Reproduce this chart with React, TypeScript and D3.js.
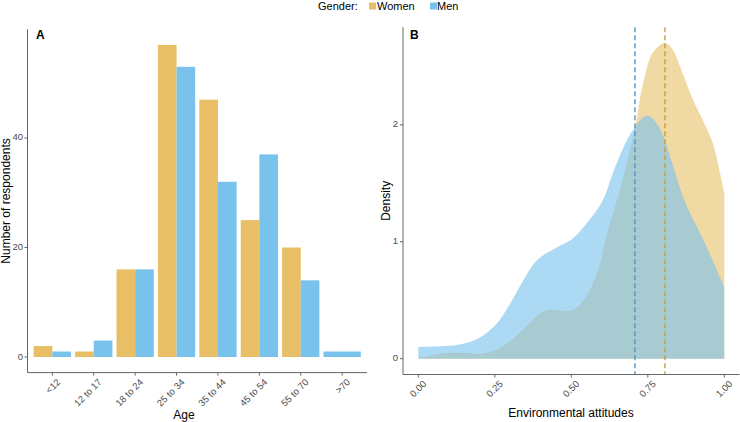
import React from "react";
import * as d3 from "d3";

const ageGroups = ["<12", "12 to 17", "18 to 24", "25 to 34", "35 to 44", "45 to 54", "55 to 70", ">70"];
const womenCounts: (number | null)[] = [2, 1, 16, 57, 47, 25, 20, null];
const menCounts: (number | null)[] = [1, 3, 16, 53, 32, 37, 14, 1];
const countTicks = [0, 20, 40];

const womenDensity: [number, number][] = [
  [0, 0.005], [0.05, 0.03], [0.1, 0.05], [0.15, 0.05], [0.2, 0.04], [0.25, 0.07], [0.3, 0.15],
  [0.35, 0.27], [0.4, 0.39], [0.43, 0.42], [0.47, 0.41], [0.5, 0.41], [0.54, 0.5], [0.584, 0.73],
  [0.617, 1.07], [0.654, 1.4], [0.68, 1.65], [0.708, 1.97], [0.735, 2.36], [0.767, 2.62],
  [0.806, 2.7], [0.83, 2.65], [0.855, 2.5], [0.898, 2.21], [0.93, 2.04], [0.963, 1.84],
  [0.985, 1.6], [1.0, 1.42],
];
const menDensity: [number, number][] = [
  [0, 0.1], [0.05, 0.105], [0.1, 0.11], [0.15, 0.13], [0.2, 0.18], [0.256, 0.3], [0.3, 0.47],
  [0.33, 0.61], [0.387, 0.84], [0.452, 0.95], [0.506, 1.03], [0.56, 1.19], [0.583, 1.27],
  [0.604, 1.36], [0.648, 1.67], [0.7, 1.95], [0.747, 2.08], [0.787, 1.98], [0.83, 1.67],
  [0.87, 1.35], [0.94, 0.97], [1.0, 0.61],
];
const meanWomen = 0.806;
const meanMen = 0.708;
const attTicks = [0, 0.25, 0.5, 0.75, 1.0];
const densTicks = [0, 1, 2];

const WOMEN = "#E8BF66";
const MEN = "#79C2EC";
const AXIS = "#666666";
const TICKTXT = "#4D4D4D";
const FONT = "'Liberation Sans', Arial, Helvetica, sans-serif";

export default function App() {
  const xA = d3.scaleLinear().domain([0.4, 8.6]).range([27.5, 367]);
  const yA = d3.scaleLinear().domain([-2.85, 59.85]).range([372.6, 29.3]);
  const xB = d3.scaleLinear().domain([-0.05, 1.05]).range([403, 739.6]);
  const yB = d3.scaleLinear().domain([-0.135, 2.835]).range([374.5, 27.2]);

  const area = d3
    .area<[number, number]>()
    .x((d) => xB(d[0]))
    .y0(() => yB(0))
    .y1((d) => yB(d[1]))
    .curve(d3.curveCatmullRom.alpha(0.5));

  const bars: React.ReactNode[] = [];
  ageGroups.forEach((g, i) => {
    const c = i + 1;
    const w = womenCounts[i];
    const m = menCounts[i];
    if (w != null && m != null) {
      bars.push(
        <rect key={"w" + i} x={xA(c - 0.45)} width={xA(c) - xA(c - 0.45)} y={yA(w)} height={yA(0) - yA(w)} fill={WOMEN} />
      );
      bars.push(
        <rect key={"m" + i} x={xA(c)} width={xA(c + 0.45) - xA(c)} y={yA(m)} height={yA(0) - yA(m)} fill={MEN} />
      );
    } else if (m != null) {
      bars.push(
        <rect key={"m" + i} x={xA(c - 0.45)} width={xA(c + 0.45) - xA(c - 0.45)} y={yA(m)} height={yA(0) - yA(m)} fill={MEN} />
      );
    } else if (w != null) {
      bars.push(
        <rect key={"w" + i} x={xA(c - 0.45)} width={xA(c + 0.45) - xA(c - 0.45)} y={yA(w)} height={yA(0) - yA(w)} fill={WOMEN} />
      );
    }
  });

  const axA_y = 372.6;
  const axB_y = 374.5;

  return (
    <svg width={740} height={422} style={{ position: "absolute", left: 0, top: 0, background: "#fff" }} fontFamily={FONT}>
      {/* Legend */}
      <g>
        <text x={318} y={10} fontSize={11} fill="#000">Gender:</text>
        <rect x={369} y={2.5} width={7} height={7} fill={WOMEN} />
        <text x={377} y={10} fontSize={11} fill="#000">Women</text>
        <rect x={430} y={2.5} width={7} height={7} fill={MEN} />
        <text x={437} y={10} fontSize={11} fill="#000">Men</text>
      </g>

      {/* Panel A */}
      <g>
        {bars}
        <line x1={27.5} x2={27.5} y1={29.3} y2={axA_y} stroke={AXIS} strokeWidth={1} />
        <line x1={27.5} x2={367} y1={axA_y} y2={axA_y} stroke={AXIS} strokeWidth={1} />
        {countTicks.map((t) => (
          <g key={t}>
            <line x1={24.5} x2={27.5} y1={yA(t)} y2={yA(t)} stroke={AXIS} />
            <text x={23} y={yA(t)} fontSize={9.5} fill={TICKTXT} textAnchor="end" dominantBaseline="middle">{t}</text>
          </g>
        ))}
        {ageGroups.map((g, i) => (
          <g key={g}>
            <line x1={xA(i + 1)} x2={xA(i + 1)} y1={axA_y} y2={axA_y + 3} stroke={AXIS} />
            <text
              transform={`translate(${xA(i + 1) + 3.5},${axA_y + 5}) rotate(-45)`}
              fontSize={9.5}
              fill={TICKTXT}
              textAnchor="end"
              dominantBaseline="hanging"
            >
              {g}
            </text>
          </g>
        ))}
        <text x={36} y={39} fontSize={12} fontWeight="bold" fill="#000">A</text>
        <text transform={`translate(7,${(29.3 + axA_y) / 2}) rotate(-90)`} fontSize={12} textAnchor="middle" dominantBaseline="middle" fill="#000">
          Number of respondents
        </text>
        <text x={184} y={419} fontSize={12} textAnchor="middle" fill="#000">Age</text>
      </g>

      {/* Panel B */}
      <g>
        <path d={area(womenDensity) ?? ""} fill={WOMEN} fillOpacity={0.6} />
        <path d={area(menDensity) ?? ""} fill={MEN} fillOpacity={0.62} />
        <line x1={xB(meanMen)} x2={xB(meanMen)} y1={27.2} y2={axB_y} stroke="#4A8FC0" strokeWidth={1.3} strokeDasharray="5,3" />
        <line x1={xB(meanWomen)} x2={xB(meanWomen)} y1={27.2} y2={axB_y} stroke="#C49A3C" strokeWidth={1.3} strokeDasharray="5,3" />
        <line x1={403} x2={403} y1={27.2} y2={axB_y} stroke={AXIS} strokeWidth={1} />
        <line x1={403} x2={739.6} y1={axB_y} y2={axB_y} stroke={AXIS} strokeWidth={1} />
        {densTicks.map((t) => (
          <g key={t}>
            <line x1={400} x2={403} y1={yB(t)} y2={yB(t)} stroke={AXIS} />
            <text x={398} y={yB(t)} fontSize={9.5} fill={TICKTXT} textAnchor="end" dominantBaseline="middle">{t}</text>
          </g>
        ))}
        {attTicks.map((t) => (
          <g key={t}>
            <line x1={xB(t)} x2={xB(t)} y1={axB_y} y2={axB_y + 3} stroke={AXIS} />
            <text
              transform={`translate(${xB(t) + 3.5},${axB_y + 5}) rotate(-45)`}
              fontSize={9.5}
              fill={TICKTXT}
              textAnchor="end"
              dominantBaseline="hanging"
            >
              {t.toFixed(2)}
            </text>
          </g>
        ))}
        <text x={410} y={39} fontSize={12} fontWeight="bold" fill="#000">B</text>
        <text transform={`translate(387,${(27.2 + axB_y) / 2}) rotate(-90)`} fontSize={12} textAnchor="middle" dominantBaseline="middle" fill="#000">
          Density
        </text>
        <text x={571} y={417} fontSize={12} textAnchor="middle" fill="#000">Environmental attitudes</text>
      </g>
    </svg>
  );
}
